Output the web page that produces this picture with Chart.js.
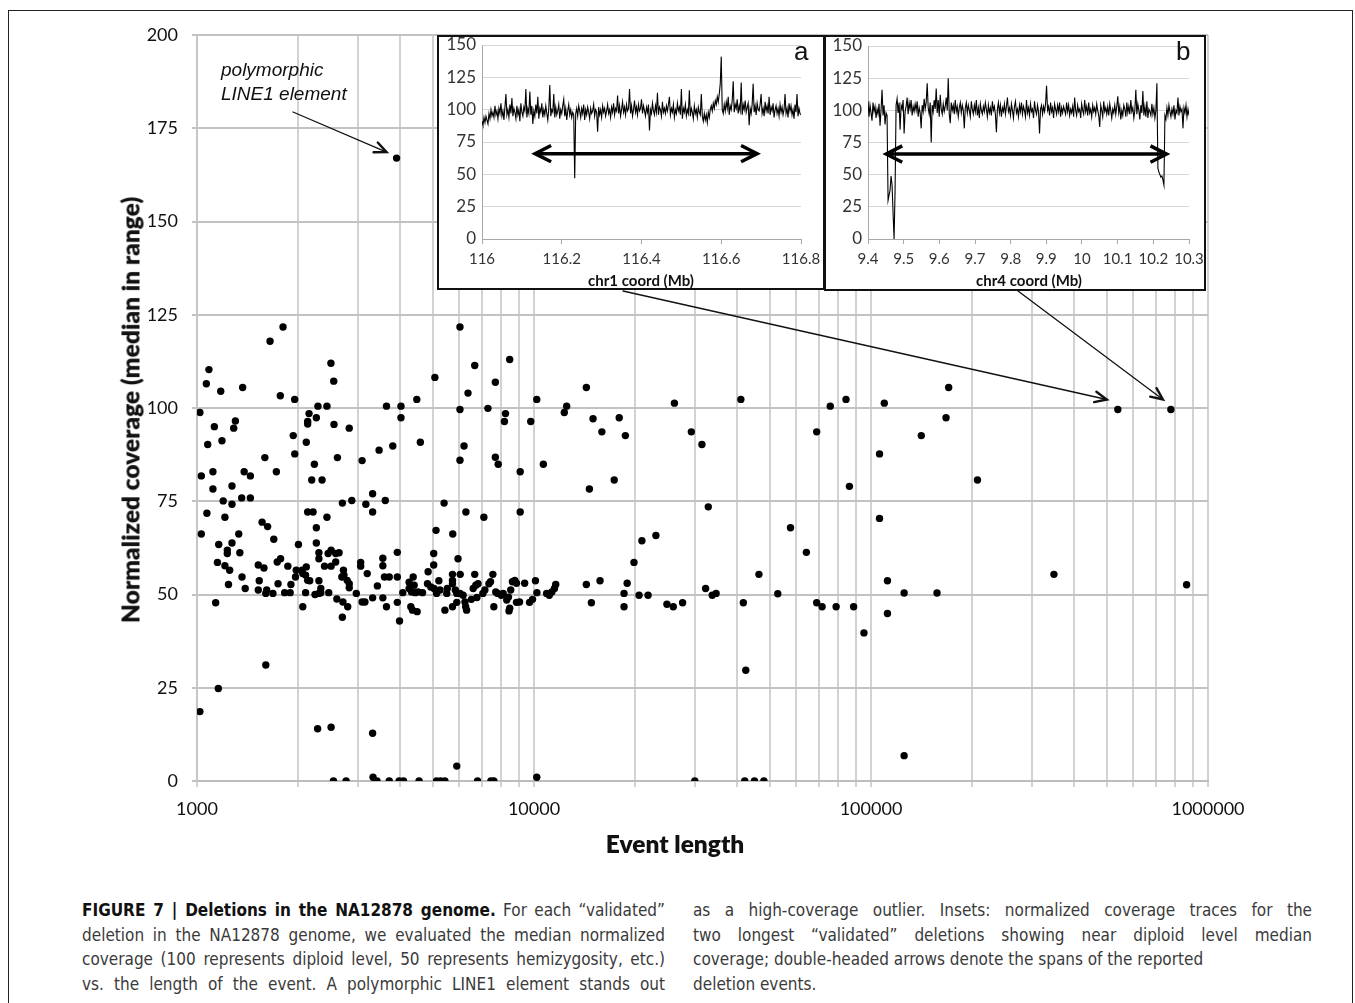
<!DOCTYPE html>
<html>
<head>
<meta charset="utf-8">
<script src="https://cdn.jsdelivr.net/npm/chart.js@4.4.1/dist/chart.umd.min.js"></script>
<style>
  body { margin: 0; background: #fff; width: 1355px; height: 1003px; position: relative; overflow: hidden; font-family: Lato, sans-serif; }
  #frame { position: absolute; left: 8px; top: 10px; width: 1345px; height: 1100px; border: 1px solid #222; box-sizing: border-box; }
  #mainWrap { position: absolute; left: 0; top: 0; }
  .inset { position: absolute; background: #fff; border: 2px solid #111; box-sizing: border-box; }
  .inset canvas { position: absolute; left: 0; top: 0; }
  .lbl { position: absolute; white-space: nowrap; }
  .axTitle { font-weight: 800; font-size: 24.5px; color: #111; transform: translate(-50%, -50%); }
  .insTitle { font-weight: 700; font-size: 15px; color: #111; transform: translate(-50%, -50%); }
  .letter { font-family: "Liberation Sans", Arial, sans-serif; font-size: 26px; color: #111; }
  .note { font-family: "Liberation Sans", Arial, sans-serif; font-style: italic; font-size: 19px; line-height: 24px; color: #111; }
  .col { position: absolute; top: 898px; font-family: "Liberation Sans Narrow", "DejaVu Sans Condensed", sans-serif; font-stretch: condensed; font-size: 17px; line-height: 24.5px; color: #3a3a3a; }
  .col div { text-align: justify; text-align-last: justify; white-space: nowrap; }
  .col div.l { text-align-last: left; }
  .col b { color: #111; }
</style>
</head>
<body>
<div id="frame"></div>
<div id="mainWrap"><canvas id="main" width="1355" height="860"></canvas></div>

<div class="lbl axTitle" style="left:130px; top:410px; transform: translate(-50%,-50%) rotate(-90deg);">Normalized coverage (median in range)</div>
<div class="lbl axTitle" style="left:675px; top:843px;">Event length</div>
<div class="lbl note" style="left:221px; top:58px;">polymorphic<br>LINE1 element</div>

<div class="inset" style="left:437px; top:35px; width:388px; height:255px;">
  <canvas id="insetA" width="384" height="251"></canvas>
</div>
<div class="inset" style="left:824px; top:35px; width:382px; height:256px;">
  <canvas id="insetB" width="378" height="252"></canvas>
</div>
<div class="lbl insTitle" style="left:641px; top:280px;">chr1 coord (Mb)</div>
<div class="lbl insTitle" style="left:1029px; top:280px;">chr4 coord (Mb)</div>
<div class="lbl letter" style="left:794px; top:36px;">a</div>
<div class="lbl letter" style="left:1176px; top:36px;">b</div>

<div class="col" style="left:82px; width:583px;">
  <div><b>FIGURE 7 | Deletions in the NA12878 genome.</b> For each “validated”</div>
  <div>deletion in the NA12878 genome, we evaluated the median normalized</div>
  <div>coverage (100 represents diploid level, 50 represents hemizygosity, etc.)</div>
  <div>vs. the length of the event. A polymorphic LINE1 element stands out</div>
</div>
<div class="col" style="left:693px; width:619px;">
  <div>as a high-coverage outlier. Insets: normalized coverage traces for the</div>
  <div>two longest “validated” deletions showing near diploid level median</div>
  <div class="l">coverage; double-headed arrows denote the spans of the reported</div>
  <div class="l">deletion events.</div>
</div>

<script>
// main scatter: event length (bp) vs normalized coverage
const eventLength = [
  1800, 1647, 1085, 1066, 1176, 1366, 1767, 1949, 2497, 2545, 2285, 2430, 1020, 2150, 2260, 2130, 2130,
  1300, 1285, 1126, 2550, 2830, 1076, 1186, 1930, 2110, 1950, 1590, 2610, 3090, 2230, 1030, 1115, 1380,
  1440, 1720, 2190, 2350, 1115, 1270, 1196, 1270, 1357, 1440, 2700, 2880, 3170, 1070, 1210, 2130, 2210,
  2430, 1560, 1620, 2260, 1030, 1330, 1690, 1160, 1270, 2000, 2260,
  1230, 1230, 1340, 1150, 1210, 1250, 1360, 1240, 1390, 1520, 1580, 1530, 1520, 1610, 1600, 1680, 1730,
  1770, 1740, 1860, 1900, 1820, 1890, 1970, 2050, 2110, 1960, 2060, 2100, 2130, 2160, 2100, 2300, 2330,
  2240, 2300, 2330, 2060, 2300, 2300, 2450, 2500, 2580, 2640, 2580, 2390, 2500, 2720, 2730, 2690, 2790,
  2830, 2830, 2460, 2600, 2710, 2800, 2700, 2970, 3060, 3060, 3200, 3090, 3150, 1136, 1600, 1157, 1020,
  2280, 2500, 2540, 2770,
  6030, 8470, 6670, 5080, 7680, 6370, 4490, 10190, 3650, 4030, 6030, 7300, 4030, 8230, 8170, 9780, 3470,
  3810, 4600, 6200, 6030, 7680, 7830, 9100, 3320, 3320, 3620, 5410, 6280, 7100, 9100, 5120, 5740,
  3560, 3560, 3930, 3600, 3720, 3930, 3430, 3320, 3560, 3650, 3930, 3990, 4080, 4260, 4260, 4380, 4410,
  4330, 4440, 4530, 4310, 4360, 4500, 4670, 4850, 5040, 5040, 4830, 4940, 5050, 5220, 5260, 5140, 5140,
  5530, 5510, 5440, 5730, 5730, 5730, 5950, 6040, 5840, 5900, 6030, 6160, 5730, 5900, 6240, 6270, 6310,
  6520, 6770, 6670, 6600, 6720, 6820, 7050, 7150, 7350, 7430, 7550, 7600, 7700, 7800, 8000, 8100, 8400,
  8300, 8470, 8430, 8530, 8630, 8770, 8870, 8870, 9060, 9380, 9700, 9900, 10100, 10200,
  3320, 3330, 3420, 3720, 3980, 4100, 4560, 5140, 5280, 5440, 5900, 6800, 7450, 7600, 10190,
  14300, 12300, 12500, 14970, 15900, 17900, 18670, 26100, 29300, 31500, 10660, 14600, 17300, 32900,
  20900, 23000, 19800, 10900, 11100, 11300, 11500, 11600, 14300, 14800, 15700, 18500, 18500, 18900,
  20500, 21800, 24800, 25900, 27600, 32300, 33800, 34700, 30000,
  41100, 75700, 84300, 109500, 170000, 167000, 141000, 69000, 106000, 86300, 207000, 540000, 776000,
  106000, 57700, 64300, 46500, 52900, 41800, 69000, 71600, 78800, 88800, 95300, 111900, 111900, 125400,
  157000, 349000, 864000, 42500, 125400, 42200, 45100, 48100,
  3910
];
const medianCoverage = [
  121.7, 117.9, 110.3, 106.5, 104.5, 105.5, 103.3, 102.3, 112, 107.2, 100.5, 100.5, 98.8, 98.5, 97.4, 96.4, 95.7,
  96.5, 94.6, 95, 95.6, 94.6, 90.2, 91.2, 92.6, 90.8, 87.7, 86.7, 86.7, 85.9, 84.9, 81.8, 82.9, 82.9,
  81.8, 82.9, 80.7, 80.7, 78.3, 79.1, 75.1, 74.2, 75.9, 75.9, 74.5, 75.2, 74.2, 71.8, 70.7, 72.1, 72.1,
  70.7, 69.4, 68.2, 67.9, 66.2, 66.2, 64.8, 63.4, 63.8, 63.4, 63.8,
  61.9, 61, 61.2, 58.6, 57.7, 56.5, 54.7, 52.7, 51.6, 57.9, 57.1, 53.7, 51.2, 51.2, 50.3, 50.3, 58.7,
  59.6, 52.9, 57.6, 52.7, 50.5, 50.5, 56.5, 56.5, 57.4, 54.7, 55.6, 55.2, 53.8, 53.7, 50.5, 53.7, 51.6,
  50, 50.3, 50.5, 46.7, 61.2, 59.6, 61, 61.9, 61, 61.2, 58.7, 57.6, 57.6, 56.5, 55.2, 54.7, 53.8,
  52.9, 51.8, 50.5, 48.8, 48, 46.7, 43.9, 50.3, 58.6, 57.6, 55.6, 48, 48, 47.8, 31.1, 24.8, 18.6,
  14, 14.4, 0, 0,
  121.7, 113, 111.4, 108.2, 106.9, 104, 102.3, 102.3, 100.5, 100.5, 99.6, 99.9, 97.4, 98.5, 96.4, 96.4, 88.7,
  89.8, 90.8, 89.8, 86, 86.8, 84.9, 82.9, 77, 72.1, 75.2, 74.5, 72.1, 70.7, 72.1, 67.2, 66.2,
  59.7, 57.7, 61.3, 54.7, 54.7, 54.7, 52.3, 49.1, 49.1, 46.7, 47.9, 42.9, 50.5, 53.3, 51.6, 54.7, 52.5,
  50.7, 50.5, 50.7, 46.7, 45.8, 45.4, 50.5, 56.1, 61, 57.9, 52.9, 52, 51.6, 53.7, 51.2, 50.7, 50.3,
  51.6, 50.3, 45.8, 52.9, 55.4, 53.8, 59.6, 55.4, 51.2, 50.3, 50.3, 49.8, 46.7, 47.9, 48, 46.7, 45.8,
  48.7, 49.2, 55.4, 51.6, 52.5, 52.9, 50.3, 51.2, 52.9, 53.4, 55.4, 46.7, 50.7, 50.3, 49.8, 50.3, 49.3,
  48.5, 46.3, 45.6, 51.2, 53.4, 53.8, 53, 47.9, 48, 53, 47.9, 48.7, 53.7, 50.5,
  12.8, 1, 0, 0, 0, 0, 0, 0, 0, 0, 4, 0, 0, 0, 1,
  105.5, 98.8, 100.5, 97.1, 93.6, 97.4, 92.6, 101.3, 93.6, 90.2, 84.9, 78.3, 80.7, 73.5,
  64.4, 65.8, 58.6, 50.3, 49.8, 50.7, 51.6, 52.7, 52.7, 47.8, 53.7, 50.3, 46.7, 53,
  49.8, 49.8, 47.4, 46.7, 47.8, 51.6, 49.8, 50.3, 0,
  102.3, 100.5, 102.3, 101.3, 105.5, 97.4, 92.6, 93.6, 87.7, 79, 80.7, 99.6, 99.6,
  70.4, 67.9, 61.3, 55.4, 50.2, 47.8, 47.8, 46.7, 46.7, 46.7, 39.7, 53.7, 44.9, 50.4,
  50.4, 55.4, 52.6, 29.7, 6.8, 0, 0, 0,
  167
];
const yTicks = [0, 25, 50, 75, 100, 125, 150, 175, 200];
const decadeLabels = [1000, 10000, 100000, 1000000];

// inset traces (one value per bin)
const chr1Start = 116.0, chr1Bin = 0.0025;
const chr1Coverage = [
  91, 88, 94, 90, 95, 92, 89, 97, 93, 100, 95, 98, 94, 103, 96, 99,
  93, 101, 97, 105, 95, 99, 92, 102, 112, 96, 100, 94, 104, 97, 109, 95,
  101, 98, 93, 103, 96, 100, 91, 105, 98, 95, 102, 99, 116, 94, 101, 97,
  114, 96, 103, 89, 99, 95, 104, 97, 110, 93, 101, 98, 105, 94, 100, 96,
  103, 97, 92, 101, 119, 95, 100, 98, 112, 94, 102, 96, 99, 104, 93, 100,
  97, 103, 108, 95, 101, 92, 99, 104, 96, 100, 94, 98, 96, 47, 97, 101,
  95, 103, 99, 94, 101, 97, 104, 92, 100, 96, 102, 98, 93, 101, 97, 99,
  104, 95, 100, 98, 83, 102, 96, 100, 94, 103, 98, 101, 95, 99, 104, 97,
  100, 94, 102, 98, 105, 96, 101, 99, 111, 97, 103, 95, 100, 106, 98, 102,
  96, 104, 99, 101, 116, 97, 103, 95, 100, 107, 98, 102, 96, 104, 99, 101,
  108, 97, 103, 99, 95, 102, 98, 104, 84, 100, 97, 105, 99, 96, 103, 98,
  113, 96, 102, 100, 95, 106, 98, 101, 97, 103, 99, 104, 110, 96, 101, 98,
  104, 94, 100, 97, 105, 99, 102, 96, 116, 93, 101, 98, 104, 95, 100, 97,
  115, 95, 101, 98, 93, 103, 97, 100, 94, 102, 98, 96, 112, 95, 91, 97,
  92, 96, 90, 98, 94, 100, 103, 99, 105, 101, 107, 104, 110, 106, 112, 120,
  141, 100, 97, 104, 99, 106, 101, 110, 96, 103, 100, 107, 122, 98, 104, 101,
  108, 97, 103, 99, 121, 96, 104, 100, 107, 98, 102, 105, 88, 101, 97, 104,
  120, 98, 103, 96, 105, 100, 99, 104, 112, 97, 101, 95, 106, 99, 103, 97,
  110, 96, 102, 99, 105, 94, 100, 103, 97, 101, 95, 104, 98, 102, 96, 100,
  112, 97, 101, 94, 105, 99, 103, 96, 100, 93, 104, 98, 112, 95, 101, 97,
  96
];
const chr4Start = 9.4, chr4Bin = 0.0028125;
const chr4Coverage = [
  107, 95, 104, 98, 92, 106, 99, 103, 94, 101, 97, 105, 88, 100, 116, 96,
  104, 89, 98, 96, 30, 34, 38, 49, 42, 20, 0, 38, 104, 109, 98, 106,
  85, 104, 101, 108, 82, 99, 103, 110, 97, 106, 101, 108, 96, 103, 99, 105,
  100, 107, 95, 102, 98, 86, 104, 99, 109, 101, 106, 121, 102, 97, 106, 75,
  104, 99, 108, 101, 117, 98, 108, 95, 112, 101, 97, 105, 99, 103, 110, 100,
  125, 97, 90, 106, 100, 104, 97, 108, 99, 103, 95, 102, 106, 98, 104, 100,
  86, 102, 106, 98, 104, 100, 95, 107, 101, 97, 104, 99, 108, 96, 102, 94,
  105, 100, 97, 103, 99, 106, 101, 95, 104, 98, 102, 96, 107, 100, 103, 97,
  83, 101, 106, 98, 104, 95, 102, 99, 105, 97, 103, 110, 99, 102, 96, 105,
  100, 94, 103, 107, 98, 101, 95, 104, 99, 106, 97, 103, 100, 95, 108, 98,
  102, 96, 105, 99, 101, 94, 107, 100, 97, 104, 99, 82, 101, 104, 97, 103,
  99, 105, 119, 100, 103, 96, 106, 99, 102, 94, 105, 101, 97, 104, 99, 106,
  95, 102, 98, 103, 100, 97, 106, 99, 104, 96, 101, 98, 103, 95, 110, 100,
  96, 104, 99, 101, 94, 105, 100, 97, 108, 99, 103, 96, 106, 98, 101, 95,
  104, 99, 102, 97, 105, 100, 96, 87, 104, 100, 95, 107, 99, 102, 97, 103,
  96, 105, 100, 94, 101, 98, 104, 97, 103, 111, 98, 103, 93, 100, 96, 104,
  101, 95, 106, 98, 103, 97, 108, 99, 102, 94, 100, 116, 97, 105, 100, 93,
  104, 98, 115, 96, 103, 95, 107, 94, 101, 99, 96, 105, 97, 102, 94, 100,
  121, 55, 52, 50, 48, 49, 46, 42, 96, 93, 102, 96, 104, 99, 95, 101,
  97, 104, 93, 100, 98, 110, 96, 103, 99, 101, 86, 102, 98, 104, 95, 101,
  96
];
const spanA = [116.133, 116.69];
const spanB = [9.451, 10.237];
const spanLevel = 66;

function drawHead(ctx, fx, fy, tx, ty, len, ang) {
  const a = Math.atan2(ty - fy, tx - fx);
  ctx.beginPath();
  ctx.moveTo(tx - len * Math.cos(a - ang), ty - len * Math.sin(a - ang));
  ctx.lineTo(tx, ty);
  ctx.lineTo(tx - len * Math.cos(a + ang), ty - len * Math.sin(a + ang));
  ctx.stroke();
}

// callout arrows: start pixel, target data point, small offset so the tip stops short of the dot
const pointers = [
  { sx: 293, sy: 112, len: 3910, cov: 167, dx: -10, dy: -6 },
  { sx: 623, sy: 291, len: 540000, cov: 99.6, dx: -11, dy: -10 },
  { sx: 1018, sy: 291, len: 776000, cov: 99.6, dx: -8, dy: -10 }
];

const pointerPlugin = {
  id: 'pointers',
  afterDatasetsDraw(chart) {
    const { ctx, scales: { x, y } } = chart;
    ctx.save();
    ctx.strokeStyle = '#111';
    ctx.lineCap = 'round';
    pointers.forEach(p => {
      const tx = x.getPixelForValue(p.len) + p.dx;
      const ty = y.getPixelForValue(p.cov) + p.dy;
      ctx.lineWidth = 1.3;
      ctx.beginPath();
      ctx.moveTo(p.sx, p.sy);
      ctx.lineTo(tx, ty);
      ctx.stroke();
      ctx.lineWidth = 2.4;
      drawHead(ctx, p.sx, p.sy, tx, ty, 13, 0.42);
    });
    ctx.restore();
  }
};

const logTicks = [];
for (let d = 1000; d < 1000000; d *= 10) {
  for (let m = 1; m < 10; m++) logTicks.push({ value: m * d });
}
logTicks.push({ value: 1000000 });

new Chart(document.getElementById('main'), {
  type: 'scatter',
  data: {
    datasets: [{
      data: eventLength.map((v, i) => ({ x: v, y: medianCoverage[i] })),
      backgroundColor: '#000',
      borderWidth: 0,
      pointRadius: 3.7
    }]
  },
  options: {
    responsive: false,
    animation: false,
    layout: { padding: { left: 0, top: 35, right: 147, bottom: 0 } },
    plugins: { legend: { display: false }, tooltip: { enabled: false } },
    scales: {
      x: {
        type: 'logarithmic',
        min: 1000,
        max: 1000000,
        afterBuildTicks: s => { s.ticks = logTicks.map(t => ({ value: t.value })); },
        afterFit: s => { s.height = 79; },
        grid: { color: '#d2d2d2', lineWidth: 2, tickLength: 6 },
        border: { color: '#bdbdbd', width: 2 },
        ticks: {
          autoSkip: false,
          maxRotation: 0,
          padding: 11,
          color: '#111',
          font: { family: 'Lato', size: 18 },
          callback: v => decadeLabels.includes(v) ? String(v) : ''
        }
      },
      y: {
        min: 0,
        max: 200,
        afterBuildTicks: s => { s.ticks = yTicks.map(v => ({ value: v })); },
        afterFit: s => { s.width = 197; s.paddingTop = 0; s.paddingBottom = 0; },
        grid: { color: '#c2c2c2', lineWidth: 2, tickLength: 5 },
        border: { color: '#c6c6c6', width: 2 },
        ticks: { padding: 14, color: '#111', font: { family: 'Lato', size: 18 } }
      }
    }
  },
  plugins: [pointerPlugin]
});

function spanPlugin(span) {
  return {
    id: 'span',
    afterDatasetsDraw(chart) {
      const { ctx, scales: { x, y } } = chart;
      const x0 = x.getPixelForValue(span[0]), x1 = x.getPixelForValue(span[1]);
      const yy = y.getPixelForValue(spanLevel);
      ctx.save();
      ctx.strokeStyle = '#000';
      ctx.lineWidth = 3.5;
      ctx.lineJoin = 'miter';
      ctx.beginPath();
      ctx.moveTo(x0 + 2, yy);
      ctx.lineTo(x1 - 2, yy);
      ctx.stroke();
      drawHead(ctx, x1, yy, x0, yy, 18, 0.47);
      drawHead(ctx, x0, yy, x1, yy, 18, 0.47);
      ctx.restore();
    }
  };
}

function makeInset(id, start, bin, values, xMin, xMax, xStep, span, pad, yw, xh) {
  new Chart(document.getElementById(id), {
    type: 'line',
    data: {
      datasets: [{
        data: values.map((v, i) => ({ x: start + i * bin, y: v })),
        borderColor: '#000',
        borderWidth: 1.1,
        pointRadius: 0,
        tension: 0
      }]
    },
    options: {
      responsive: false,
      animation: false,
      layout: { padding: pad },
      plugins: { legend: { display: false }, tooltip: { enabled: false } },
      scales: {
        x: {
          type: 'linear',
          min: xMin,
          max: xMax,
          afterFit: s => { s.height = xh; s.paddingLeft = 0; s.paddingRight = 0; },
          grid: { drawOnChartArea: false, color: '#a8a8a8', tickLength: 5 },
          border: { color: '#a8a8a8', width: 1 },
          ticks: {
            stepSize: xStep,
            autoSkip: false,
            maxRotation: 0,
            padding: 6,
            color: '#333',
            font: { family: 'Lato', size: 15 },
            callback: v => String(Math.round(v * 10) / 10)
          }
        },
        y: {
          min: 0,
          max: 150,
          afterFit: s => { s.width = yw; s.paddingTop = 0; s.paddingBottom = 0; },
          grid: { color: '#d6d6d6', lineWidth: 1, drawTicks: false },
          border: { color: '#a8a8a8', width: 1 },
          ticks: { stepSize: 25, padding: 6, color: '#333', font: { family: 'Lato', size: 17 } }
        }
      }
    },
    plugins: [spanPlugin(span)]
  });
}

makeInset('insetA', chr1Start, chr1Bin, chr1Coverage, 116, 116.8, 0.2, spanA, { left: 0, top: 8, right: 22, bottom: 0 }, 43, 49);
makeInset('insetB', chr4Start, chr4Bin, chr4Coverage, 9.4, 10.3, 0.1, spanB, { left: 0, top: 9, right: 15, bottom: 0 }, 42, 50);
</script>
</body>
</html>
